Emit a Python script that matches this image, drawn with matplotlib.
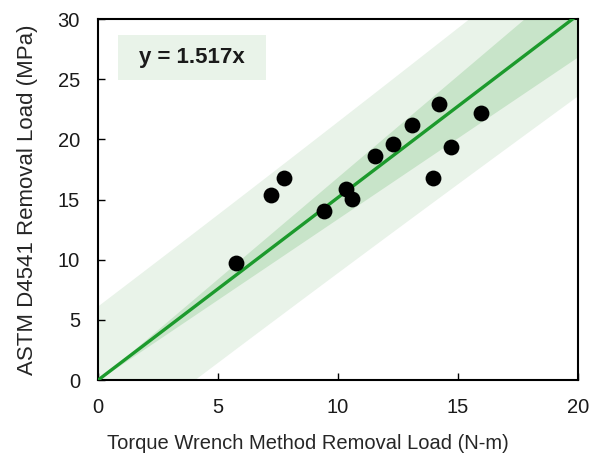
import numpy as np
import matplotlib.pyplot as plt
from matplotlib.patches import Rectangle

plt.rcParams['font.family'] = ['Liberation Sans', 'DejaVu Sans']

# removal loads measured by both methods
torque = [5.75, 7.21, 7.75, 9.42, 10.33, 10.58, 11.54, 12.29, 13.10, 14.20, 13.96, 14.70, 15.96]
astm = [9.7, 15.4, 16.8, 14.05, 15.9, 15.05, 18.6, 19.6, 21.2, 22.9, 16.8, 19.4, 22.2]
slope = 1.517
pi_mult = 2.3   # multiplier for the prediction band
ci_mult = 2.75  # multiplier for the band around the fit

x = np.array(torque)
y = np.array(astm)
resid = y - slope * x
s = np.sqrt(np.sum(resid**2) / (len(x) - 1))
sxx = np.sum(x**2)

xs = np.linspace(0, 20, 200)
fit = slope * xs
ci = ci_mult * s * np.sqrt(xs**2 / sxx)
pi = pi_mult * s * np.sqrt(1 + xs**2 / sxx)

fig, ax = plt.subplots(figsize=(5.91, 4.59), dpi=100)
fig.subplots_adjust(left=0.166, right=0.978, bottom=0.172, top=0.9586)

ax.fill_between(xs, fit - pi, fit + pi, color='#e9f3e9', lw=0, zorder=1)
ax.fill_between(xs, fit - ci, fit + ci, color='#c8e4c9', lw=0, zorder=2)
ax.plot(xs, fit, color='#1c9a2c', lw=2.4, zorder=3)
ax.scatter(x, y, s=130, color='black', zorder=4, linewidths=0)

ax.add_patch(Rectangle((0.042, 0.831), 0.308, 0.125, transform=ax.transAxes,
                       fc='#e9f3e9', ec='none', zorder=5))
ax.text(0.196, 0.893, 'y = 1.517x', transform=ax.transAxes, fontsize=16,
        fontweight='bold', ha='center', va='center', color='#1a1a1a', zorder=6)

ax.set_xlim(0, 20)
ax.set_ylim(0, 30)
ax.set_xticks([0, 5, 10, 15, 20])
ax.set_yticks([0, 5, 10, 15, 20, 25, 30])
ax.tick_params(direction='in', length=5, width=1, labelsize=14.5, pad=13,
               labelcolor='#1a1a1a')
for sp in ax.spines.values():
    sp.set_linewidth(1.5)
ax.set_xlabel('Torque Wrench Method Removal Load (N-m)', fontsize=14.5,
              color='#262626', labelpad=13)
ax.xaxis.set_label_coords(0.4375, -0.15)
ax.set_ylabel('ASTM D4541 Removal Load (MPa)', fontsize=16,
              color='#262626', labelpad=14)

fig.savefig('out.png', dpi=100)
